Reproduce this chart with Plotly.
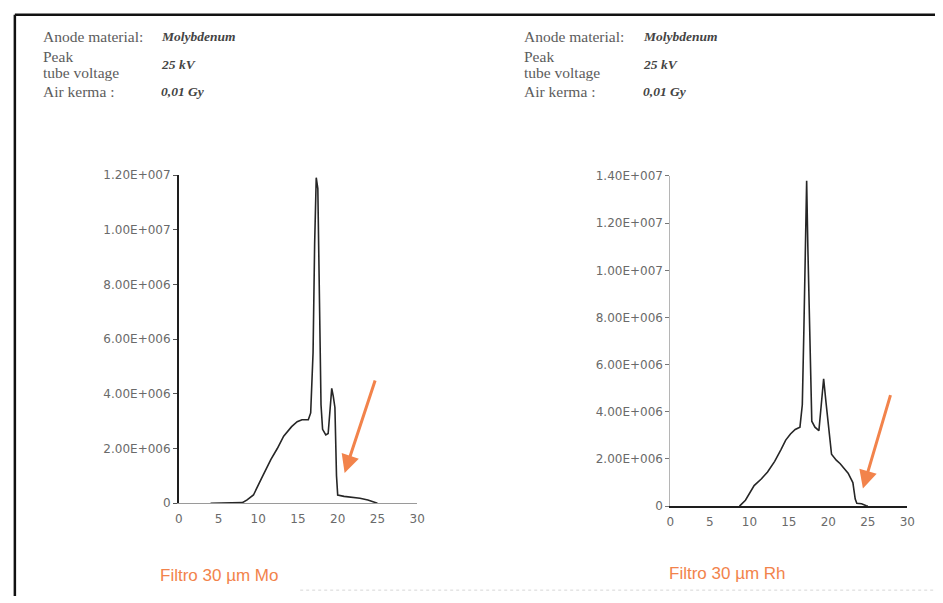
import plotly.graph_objects as go

# Energy (keV) and photon fluence for the Mo-anode spectrum, 30 µm Mo filter
mo_energy = [4.0, 6.0, 8.0, 8.6, 9.4, 10.4, 11.6, 12.4, 13.2, 14.2, 14.9, 15.5, 16.3,
             16.6, 16.9, 17.1, 17.3, 17.5, 17.7, 17.9, 18.1, 18.5, 18.8, 19.1, 19.25,
             19.45, 19.65, 19.85, 20.0, 20.8, 21.8, 22.8, 23.8, 24.4, 25.0]
mo_fluence = [0.0, 0.02e6, 0.02e6, 0.12e6, 0.3e6, 0.9e6, 1.6e6, 2.0e6, 2.45e6, 2.8e6,
              2.98e6, 3.05e6, 3.05e6, 3.3e6, 5.5e6, 9.5e6, 1.19e7, 1.15e7, 7.0e6, 3.6e6,
              2.7e6, 2.5e6, 2.55e6, 3.6e6, 4.2e6, 3.9e6, 3.5e6, 1.0e6, 0.3e6, 0.25e6,
              0.22e6, 0.18e6, 0.12e6, 0.05e6, 0.0]

# Same tube settings, 30 µm Rh filter
rh_energy = [8.75, 9.5, 10.6, 11.5, 12.3, 13.2, 14.0, 14.6, 15.2, 15.8, 16.4, 16.7,
             16.9, 17.1, 17.25, 17.4, 17.55, 17.7, 17.9, 18.3, 18.8, 19.1, 19.4, 19.7,
             20.0, 20.4, 21.0, 21.5, 22.0, 22.5, 23.1, 23.4, 23.6, 24.2, 24.8, 25.0]
rh_fluence = [0.0, 0.25e6, 0.87e6, 1.15e6, 1.45e6, 1.9e6, 2.4e6, 2.8e6, 3.06e6, 3.25e6,
              3.35e6, 4.3e6, 7.5e6, 1.2e7, 1.38e7, 1.1e7, 8.9e6, 6.0e6, 3.6e6, 3.35e6,
              3.2e6, 4.3e6, 5.4e6, 4.4e6, 3.4e6, 2.2e6, 1.95e6, 1.8e6, 1.6e6, 1.4e6,
              1.0e6, 0.3e6, 0.12e6, 0.1e6, 0.02e6, 0.0]

x_ticks = [0, 5, 10, 15, 20, 25, 30]
mo_yticks = [0, 2e6, 4e6, 6e6, 8e6, 1e7, 1.2e7]
mo_ylabels = ["0", "2.00E+006", "4.00E+006", "6.00E+006", "8.00E+006", "1.00E+007", "1.20E+007"]
rh_yticks = [0, 2e6, 4e6, 6e6, 8e6, 1e7, 1.2e7, 1.4e7]
rh_ylabels = ["0", "2.00E+006", "4.00E+006", "6.00E+006", "8.00E+006", "1.00E+007",
              "1.20E+007", "1.40E+007"]

captions = ["Filtro 30 µm Mo", "Filtro 30 µm Rh"]

W, H = 943, 603
LINE = "#262626"
GREY_TXT = "#5c5c5c"
ORANGE = "#f2834b"


def px(x):
    return x / W


def py(y):
    return 1 - y / H


fig = go.Figure()
fig.add_trace(go.Scatter(x=mo_energy, y=mo_fluence, mode="lines",
                         line=dict(color=LINE, width=1.6), xaxis="x", yaxis="y",
                         showlegend=False))
fig.add_trace(go.Scatter(x=rh_energy, y=rh_fluence, mode="lines",
                         line=dict(color=LINE, width=1.6), xaxis="x2", yaxis="y2",
                         showlegend=False))

tick_font = dict(family="DejaVu Sans, sans-serif", size=12, color="#6a6a6a")

xcommon = dict(range=[0, 30], tickvals=x_ticks, showgrid=False, zeroline=False,
               ticks="", tickfont=tick_font, fixedrange=True, ticklabelstandoff=4)
ycommon = dict(showgrid=False, zeroline=False, ticks="outside", ticklen=4,
               tickfont=tick_font, fixedrange=True)

fig.update_layout(
    width=W, height=H,
    margin=dict(l=0, r=0, t=0, b=0),
    paper_bgcolor="white", plot_bgcolor="white",
    xaxis=dict(domain=[px(177), px(418.5)], anchor="y", showline=True,
               linecolor="#9a9a9a", linewidth=1, **xcommon),
    yaxis=dict(domain=[py(508), py(172)], anchor="x", range=[0, 1.2e7],
               tickvals=mo_yticks, ticktext=mo_ylabels, showline=True,
               linecolor="#1e1e1e", linewidth=1.5, tickcolor="#555", **ycommon),
    xaxis2=dict(domain=[px(675), px(915)], anchor="y2", showline=True,
                linecolor="#1e1e1e", linewidth=1.5, **xcommon),
    yaxis2=dict(domain=[py(511), py(173)], anchor="x2", range=[0, 1.4e7],
                tickvals=rh_yticks, ticktext=rh_ylabels, showline=True,
                linecolor="#b5b5b5", linewidth=1, tickcolor="#777", **ycommon),
)

# Outer frame (top and left edges)
fig.add_shape(type="line", xref="paper", yref="paper", x0=px(11), x1=px(943),
              y0=py(8), y1=py(8), line=dict(color="#111", width=2.5))
fig.add_shape(type="line", xref="paper", yref="paper", x0=px(11), x1=px(11),
              y0=py(8), y1=py(603), line=dict(color="#111", width=2.5))
fig.add_shape(type="line", xref="paper", yref="paper", x0=px(300), x1=px(943),
              y0=py(597), y1=py(597), line=dict(color="#d6d6d6", width=1, dash="dot"))

serif = "Liberation Serif, Times New Roman, serif"
ann = []


def info_block(x_label, x_value):
    rows = [
        (30, "Anode material:", "<i><b>Molybdenum</b></i>", 30),
        (51, "Peak", "<i><b>25 kV</b></i>", 59),
        (67, "tube voltage", None, None),
        (86, "Air kerma :", "<i><b>0,01 Gy</b></i>", 86),
    ]
    for y, label, value, vy in rows:
        ann.append(dict(x=px(x_label), y=py(y), xref="paper", yref="paper",
                        text=label, showarrow=False, xanchor="left", yanchor="middle",
                        font=dict(family=serif, size=15.5, color=GREY_TXT)))
        if value:
            ann.append(dict(x=px(x_value), y=py(vy), xref="paper", yref="paper",
                            text=value, showarrow=False, xanchor="left", yanchor="middle",
                            font=dict(family=serif, size=13.5, color="#444")))


info_block(37, 157)
info_block(525, 645)

# Orange arrows pointing at the high-energy tails
ann.append(dict(x=px(345), y=py(477), xref="paper", yref="paper", ax=31, ay=-94,
                axref="pixel", ayref="pixel", showarrow=True, arrowhead=2,
                arrowsize=1.2, arrowwidth=3, arrowcolor=ORANGE, text=""))
ann.append(dict(x=px(870), y=py(493), xref="paper", yref="paper", ax=28, ay=-95,
                axref="pixel", ayref="pixel", showarrow=True, arrowhead=2,
                arrowsize=1.2, arrowwidth=3, arrowcolor=ORANGE, text=""))

for cx, cy, txt in [(218, 582, captions[0]), (733, 580, captions[1])]:
    ann.append(dict(x=px(cx), y=py(cy), xref="paper", yref="paper", text=txt,
                    showarrow=False, xanchor="center", yanchor="middle",
                    font=dict(family="Liberation Sans, Arial, sans-serif", size=17,
                              color=ORANGE)))

fig.update_layout(annotations=ann)
fig.write_html("out.html")
